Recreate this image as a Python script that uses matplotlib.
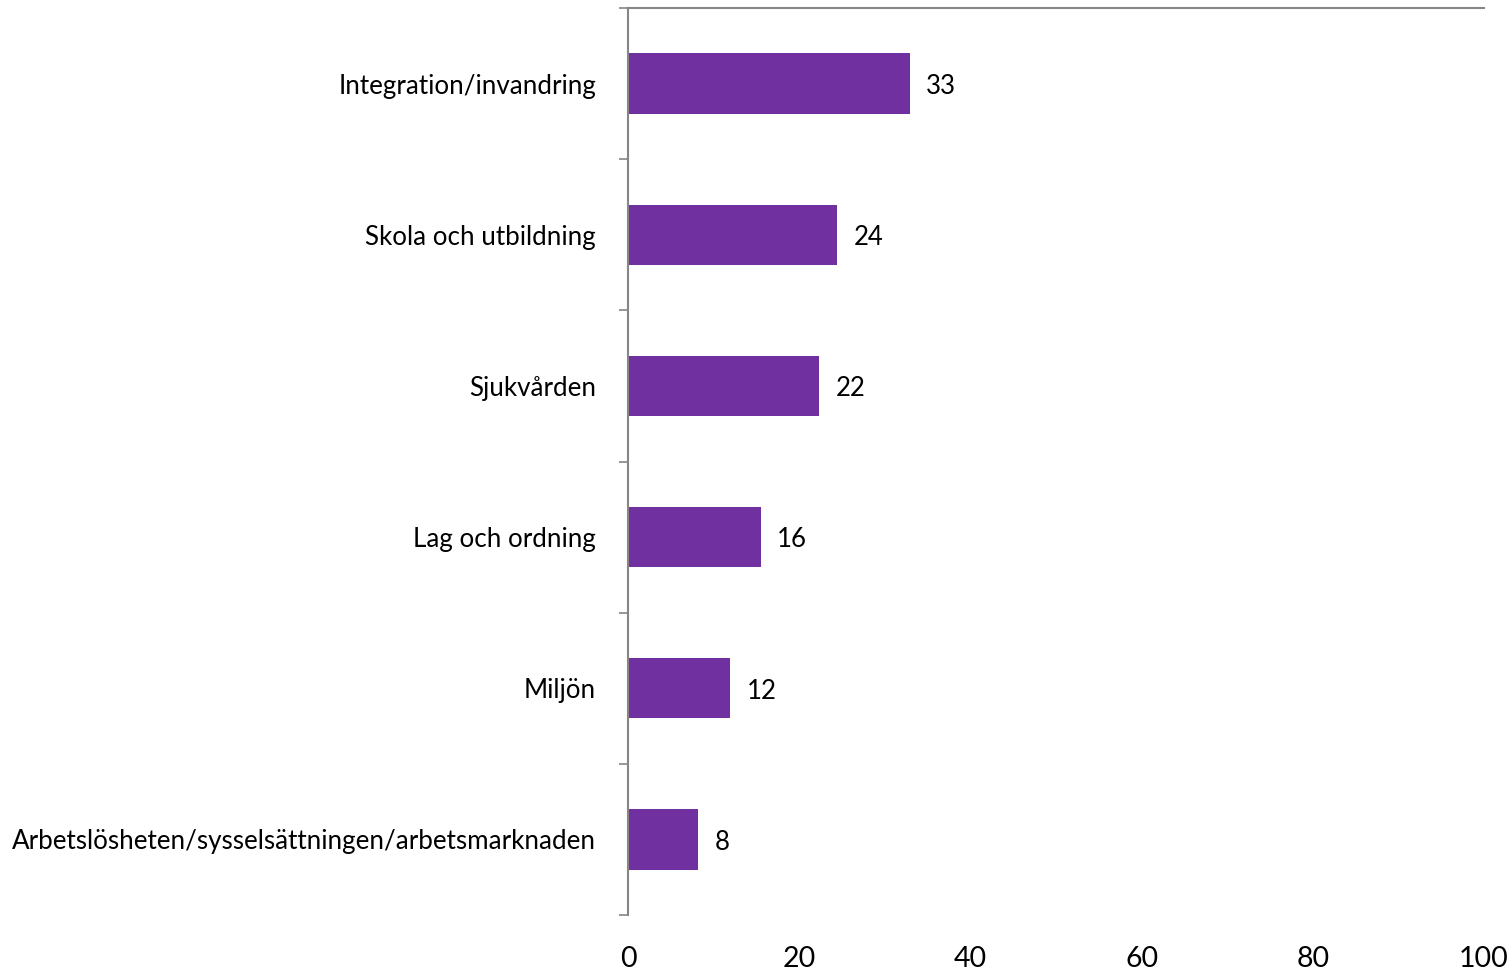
import numpy as np
import matplotlib
matplotlib.use("Agg")
import matplotlib.pyplot as plt

# data (top to bottom); bar lengths, labels are rounded
categories = [
    "Integration/invandring",
    "Skola och utbildning",
    "Sjukvården",
    "Lag och ordning",
    "Miljön",
    "Arbetslösheten/sysselsättningen/arbetsmarknaden",
]
values = [32.9, 24.4, 22.3, 15.5, 11.9, 8.2]
labels = ["33", "24", "22", "16", "12", "8"]
xticks = [0, 20, 40, 60, 80, 100]

bar_color = "#7030A0"
axis_color = "#868686"

plt.rcParams["font.family"] = ["Lato", "DejaVu Sans"]

fig = plt.figure(figsize=(15.12, 9.73), dpi=100)
ax = fig.add_axes([628 / 1512, 1 - 915 / 973, (1484 - 628) / 1512, (915 - 8) / 973])

n = len(categories)
pos = np.arange(n)
ax.barh(pos, values, height=0.4, color=bar_color, zorder=2)

for p, v, lab in zip(pos, values, labels):
    ax.annotate(lab, (v, p), xytext=(12, -2), textcoords="offset points",
                ha="left", va="center", fontsize=18.5, color="black")

ax.set_ylim(n - 0.5, -0.5)
ax.set_xlim(0, 100)

# category labels at centres, tick marks at boundaries
ax.set_yticks(pos)
ax.set_yticklabels(categories, fontsize=18.7)
ax.tick_params(axis="y", which="major", length=0, pad=23)
ax.set_yticks(np.arange(-0.5, n, 1), minor=True)
ax.tick_params(axis="y", which="minor", length=6.5, width=1.2, color=axis_color)

ax.set_xticks(xticks)
ax.set_xticklabels([str(t) for t in xticks], fontsize=20.5)
ax.tick_params(axis="x", length=0, pad=22)

for s in ["right", "bottom"]:
    ax.spines[s].set_visible(False)
for s in ["left", "top"]:
    ax.spines[s].set_color(axis_color)
    ax.spines[s].set_linewidth(1.5)

fig.savefig("out.png", dpi=100)
